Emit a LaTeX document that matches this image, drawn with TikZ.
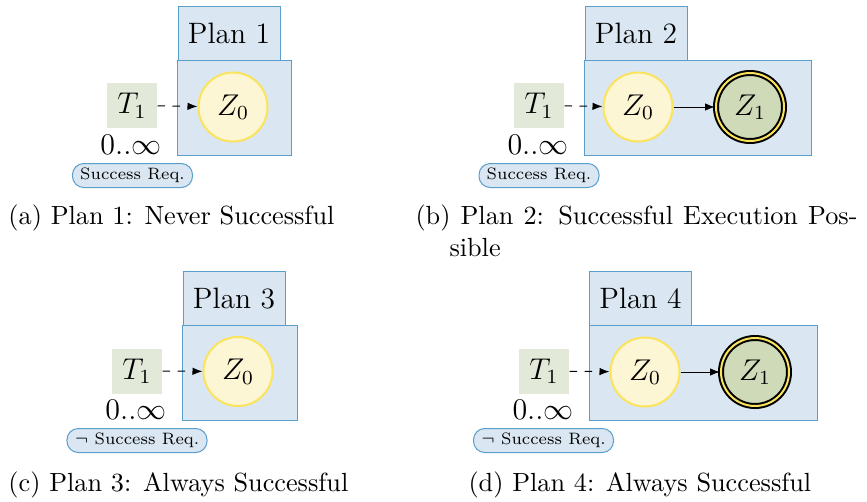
\documentclass[tikz,border=0pt]{standalone}
\usetikzlibrary{arrows.meta}
\definecolor{planblue}{HTML}{DAE6F2}
\definecolor{planedge}{HTML}{5A9FCC}
\definecolor{taskgreen}{HTML}{E2E9D9}
\definecolor{startyellow}{HTML}{FDF6D4}
\definecolor{startedge}{HTML}{FBE45C}
\definecolor{goalgreen}{HTML}{CFDAB8}
\begin{document}
\begin{tikzpicture}[x=0.4pt,y=-0.4pt, font=\fontsize{11.8}{14}\selectfont,
  planlabel/.style={draw=planedge, fill=planblue, minimum width=40.8pt, minimum height=21.6pt, inner sep=0pt},
  planbody/.style={draw=planedge, fill=planblue, minimum height=38pt, inner sep=0pt},
  start/.style={circle, draw=startedge, thick, fill=startyellow, minimum size=27.6pt, inner sep=0pt},
  goal/.style={circle, draw=black, thick, double=startedge, double distance=0.8pt, fill=goalgreen, minimum size=27.2pt, inner sep=0pt},
  task/.style={fill=taskgreen, minimum width=20pt, minimum height=18pt, inner sep=0pt},
  req/.style={draw=planedge, fill=planblue, rounded corners=4.5pt, minimum height=9.6pt, inner sep=1pt, font=\fontsize{6.6}{8}\selectfont},
  subcap/.style={anchor=base west, inner sep=0pt, font=\fontsize{10.5}{12.8}\selectfont},
  >={Latex[length=4pt,width=3pt]}]
\useasboundingbox (0,0) rectangle (867,501);

% (a)
\node[planlabel] (l1) at (229,33) {Plan 1};
\node[planbody, minimum width=45.6pt] (b1) at (234,108) {};
\node[start] (a1) at (233,107) {$Z_0$};
\node[task] (t1) at (132,105.5) {$T_1$};
\node (n1) at (131,145) {$0..\infty$};
\node[req, minimum width=48pt] (r1) at (132.5,175.5) {Success Req.};
\draw[->, dashed] (t1) -- (a1);
\node[subcap] (c1) at (8,224) {(a) Plan 1: Never Successful};

% (b)
\node[planlabel] (l2) at (636,33) {Plan 2};
\node[planbody, minimum width=90.8pt] (b2) at (697.5,107.5) {};
\node[start] (a2) at (638,107) {$Z_0$};
\node[goal] (g2) at (750,107) {$Z_1$};
\node[task] (t2) at (539,105.5) {$T_1$};
\node (n2) at (538,145) {$0..\infty$};
\node[req, minimum width=48pt] (r2) at (539,175.5) {Success Req.};
\draw[->, dashed] (t2) -- (a2);
\draw[->] (a2) -- (g2);
\node[subcap] (c2) at (415,224) {\makebox[176.8pt][s]{(b) Plan 2: Successful Execution Pos-}};
\node[subcap] (c2b) at (449,256) {sible};

% (c)
\node[planlabel] (l3) at (234,298.5) {Plan 3};
\node[planbody, minimum width=46pt] (b3) at (239.5,372.5) {};
\node[start] (a3) at (238,371.5) {$Z_0$};
\node[task] (t3) at (137,371) {$T_1$};
\node (n3) at (136,410) {$0..\infty$};
\node[req, minimum width=56pt] (r3) at (137,440.5) {$\neg$ Success Req.};
\draw[->, dashed] (t3) -- (a3);
\node[subcap] (c3) at (8,491) {(c) Plan 3: Always Successful};

% (d)
\node[planlabel] (l4) at (640.5,298.5) {Plan 4};
\node[planbody, minimum width=91.2pt] (b4) at (703,373) {};
\node[start] (a4) at (645,372) {$Z_0$};
\node[goal] (g4) at (755,372) {$Z_1$};
\node[task] (t4) at (544,371) {$T_1$};
\node (n4) at (543,410) {$0..\infty$};
\node[req, minimum width=56pt] (r4) at (543.5,440.5) {$\neg$ Success Req.};
\draw[->, dashed] (t4) -- (a4);
\draw[->] (a4) -- (g4);
\node[subcap] (c4) at (468,491) {(d) Plan 4: Always Successful};
\end{tikzpicture}
\end{document}
